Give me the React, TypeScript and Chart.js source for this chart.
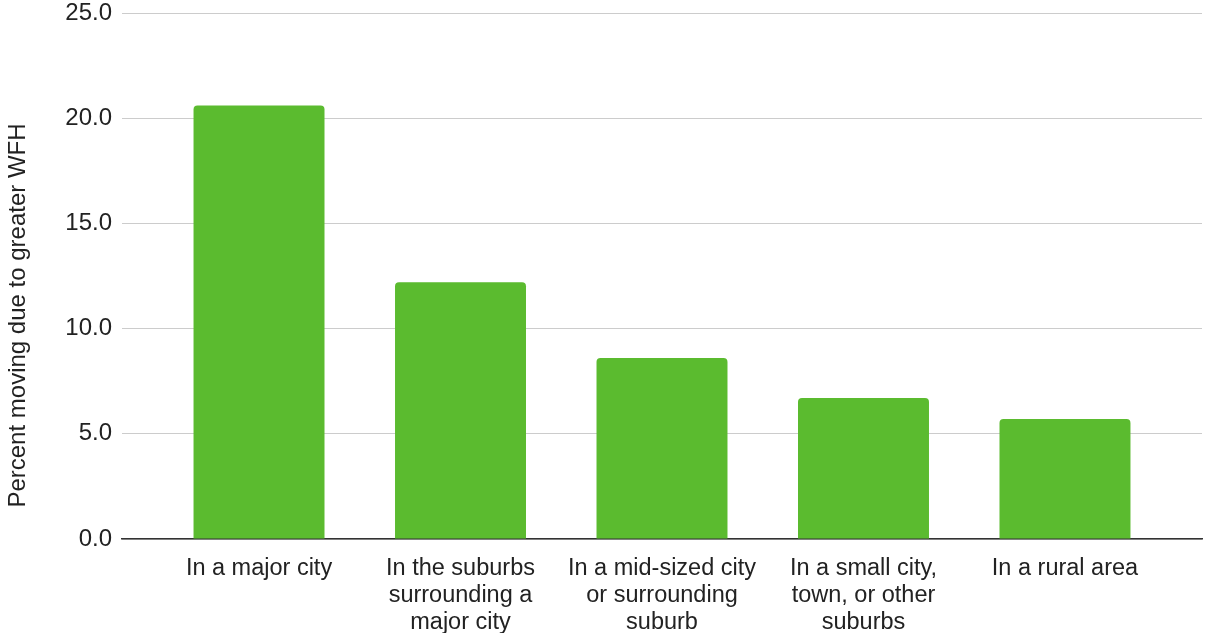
import React, { useEffect, useRef } from "react";
import { Chart, registerables } from "chart.js";

Chart.register(...registerables);

const categories: (string | string[])[] = [
  "In a major city",
  ["In the suburbs", "surrounding a", "major city"],
  ["In a mid-sized city", "or surrounding", "suburb"],
  ["In a small city,", "town, or other", "suburbs"],
  "In a rural area",
];
const values: number[] = [20.6, 12.2, 8.6, 6.7, 5.7];
const yTicks: number[] = [0, 5, 10, 15, 20, 25];
const yTitle = "Percent moving due to greater WFH";

const FONT = "'Liberation Sans', Arial, sans-serif";

const yTitlePlugin = {
  id: "yTitlePlugin",
  afterDraw(chart: any) {
    const ctx = chart.ctx;
    ctx.save();
    ctx.translate(18, chart.height / 2 - 1);
    ctx.rotate(-Math.PI / 2);
    ctx.font = `24px ${FONT}`;
    ctx.fillStyle = "#222222";
    ctx.textAlign = "center";
    ctx.textBaseline = "middle";
    ctx.fillText(yTitle, 0, 0);
    ctx.restore();
  },
};

export default function App() {
  const ref = useRef<HTMLCanvasElement | null>(null);
  useEffect(() => {
    document.body.style.margin = "0";
    const canvas = ref.current!;
    const chart = new Chart(canvas, {
      type: "bar",
      data: {
        datasets: [
          {
            data: values.map((v, i) => ({ x: i, y: v })),
            backgroundColor: "#5bbb2f",
            borderWidth: 0,
            borderRadius: { topLeft: 4, topRight: 4, bottomLeft: 0, bottomRight: 0 },
            borderSkipped: false,
            categoryPercentage: 1,
            barPercentage: 0.65,
          },
        ],
      },
      plugins: [yTitlePlugin],
      options: {
        animation: false,
        responsive: false,
        maintainAspectRatio: false,
        layout: { padding: { top: 13, right: 3, left: 0, bottom: 0 } },
        plugins: { legend: { display: false }, tooltip: { enabled: false } },
        scales: {
          x: {
            type: "linear",
            min: -0.68,
            max: 4.68,
            offset: false,
            z: 1,
            grid: { display: false },
            border: { display: true, color: "#333333", width: 1.5 },
            afterBuildTicks: (scale: any) => {
              scale.ticks = scale.ticks.filter((t: any) => Number.isInteger(t.value) && t.value >= 0 && t.value < categories.length);
            },
            afterFit: (scale: any) => {
              scale.height = 94;
              scale.paddingLeft = 0;
              scale.paddingRight = 0;
            },
            ticks: {
              stepSize: 1,
              autoSkip: false,
              maxRotation: 0,
              minRotation: 0,
              padding: 8,
              color: "#222222",
              font: { family: FONT, size: 23.5, lineHeight: 1.15 },
              callback: (v: any) => categories[v as number] as any,
            },
          },
          y: {
            min: 0,
            max: 25,
            afterBuildTicks: (scale: any) => {
              scale.ticks = yTicks.map((v) => ({ value: v }));
            },
            afterFit: (scale: any) => {
              scale.width = 122;
              scale.paddingTop = 0;
              scale.paddingBottom = 0;
            },
            grid: { color: "#cccccc", lineWidth: 1, drawTicks: false },
            border: { display: false },
            ticks: {
              padding: 10,
              color: "#222222",
              font: { family: FONT, size: 24 },
              callback: (v: any) => Number(v).toFixed(1),
            },
          },
        },
      },
    });
    return () => chart.destroy();
  }, []);
  return (
    <div style={{ width: 1205, height: 633 }}>
      <canvas ref={ref} width={1205} height={633} style={{ display: "block" }} />
    </div>
  );
}
